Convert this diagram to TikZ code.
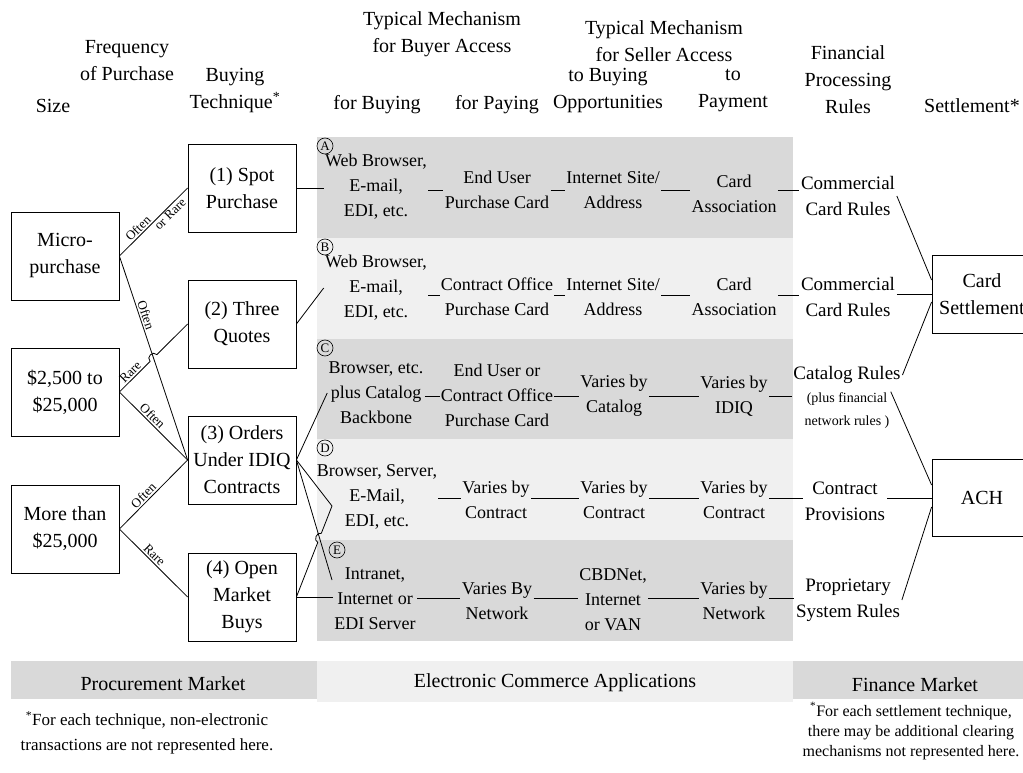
\documentclass[tikz,border=0pt]{standalone}
\usepackage{fontspec}
\setmainfont{Liberation Serif}
\usetikzlibrary{calc}
\definecolor{banddark}{HTML}{D9D9D9}
\definecolor{bandlight}{HTML}{F0F0F0}
\begin{document}
\begin{tikzpicture}[x=1pt, y=-1pt, line width=0.8pt,
  every node/.style={align=center},
  head/.style={font=\fontsize{20}{27}\selectfont},
  box/.style={draw, minimum width=108pt, minimum height=88pt, font=\fontsize{20}{27}\selectfont},
  cell/.style={inner sep=1pt, font=\fontsize{18}{25}\selectfont},
  rules/.style={inner sep=1.5pt, font=\fontsize{19}{26}\selectfont},
  small/.style={inner sep=1pt, font=\fontsize{14}{23}\selectfont},
  tag/.style={draw, circle, inner sep=0pt, minimum size=16pt, line width=0.6pt, font=\fontsize{13}{13}\selectfont},
  freq/.style={sloped, above, inner sep=1.5pt, font=\fontsize{13}{13}\selectfont},
  market/.style={font=\fontsize{20}{24}\selectfont},
  note/.style={font=\fontsize{17}{25}\selectfont}]
\useasboundingbox (0,0) rectangle (1023,773);
\fill[banddark] (317,137) rectangle (793,238);
\fill[bandlight] (317,238) rectangle (793,339);
\fill[banddark] (317,339) rectangle (793,439);
\fill[bandlight] (317,439) rectangle (793,540);
\fill[banddark] (317,540) rectangle (793,641);
\fill[banddark] (11,661) rectangle (317,699);
\fill[bandlight] (317,661) rectangle (793,702);
\fill[banddark] (793,661) rectangle (1023,699);

\node[head] (hsize) at (53,106) {Size};
\node[head] (hfreq) at (127,61) {Frequency\\of Purchase};
\node[head] (htech) at (235,91) {Buying\\Technique\textsuperscript{*}};
\node[head] (hbuyer) at (442,34) {Typical Mechanism\\for Buyer Access};
\node[head] (hseller) at (664,41) {Typical Mechanism\\for Seller Access};
\node[head] (hbuy) at (377,105) {for Buying};
\node[head] (hpay) at (497,105) {for Paying};
\node[head] (hopp) at (608,91) {to Buying\\Opportunities};
\node[head] (hpmt) at (733,91) {to\\Payment};
\node[head] (hrules) at (848,80) {Financial\\Processing\\Rules};
\node[head] (hsettle) at (972,106) {Settlement*};

\node[box] (s1) at (65,256) {Micro-\\purchase};
\node[box] (s2) at (65,392) {\$2,500 to\\\$25,000};
\node[box] (s3) at (65,529) {More than\\\$25,000};
\node[box] (t1) at (242,188) {(1) Spot\\Purchase};
\node[box] (t2) at (242,324) {(2) Three\\Quotes};
\node[box] (t3) at (242,460) {(3) Orders\\Under IDIQ\\Contracts};
\node[box] (t4) at (242,597) {(4) Open\\Market\\Buys};

\node[tag] (la) at (325,146) {A};
\node[cell] (a1) at (376,187) {Web Browser,\\E-mail,\\EDI, etc.};
\node[cell] (a2) at (497,190) {End User\\Purchase Card};
\node[cell] (a3) at (613,190) {Internet Site/\\Address};
\node[cell] (a4) at (734,194) {Card\\Association};
\node[rules] (a5) at (848,196) {Commercial\\Card Rules};

\node[tag] (lb) at (325,247) {B};
\node[cell] (b1) at (376,288) {Web Browser,\\E-mail,\\EDI, etc.};
\node[cell] (b2) at (497,297) {Contract Office\\Purchase Card};
\node[cell] (b3) at (613,297) {Internet Site/\\Address};
\node[cell] (b4) at (734,297) {Card\\Association};
\node[rules] (b5) at (848,297) {Commercial\\Card Rules};

\node[tag] (lc) at (325,348) {C};
\node[cell] (c1) at (376,393) {Browser, etc.\\plus Catalog\\Backbone};
\node[cell] (c2) at (497,395) {End User or\\Contract Office\\Purchase Card};
\node[cell] (c3) at (614,396) {Varies by\\Catalog};
\node[cell] (c4) at (734,396) {Varies by\\IDIQ};
\node[rules] (c5) at (847,375) {Catalog Rules};
\node[small] (c6) at (847,411) {(plus financial\\network rules )};

\node[tag] (ld) at (325,448) {D};
\node[cell] (d1) at (377,497) {Browser, Server,\\E-Mail,\\EDI, etc.};
\node[cell] (d2) at (496,500) {Varies by\\Contract};
\node[cell] (d3) at (614,500) {Varies by\\Contract};
\node[cell] (d4) at (734,500) {Varies by\\Contract};
\node[rules] (d5) at (845,501) {Contract\\Provisions};

\node[tag] (le) at (337,550) {E};
\node[cell] (e1) at (375,599) {Intranet,\\Internet or\\EDI Server};
\node[cell] (e2) at (497,601) {Varies By\\Network};
\node[cell] (e3) at (613,600) {CBDNet,\\Internet\\or VAN};
\node[cell] (e4) at (734,601) {Varies by\\Network};
\node[rules] (e5) at (848,600) {Proprietary\\System Rules};

\node[box, minimum width=100pt, minimum height=78pt] (cs) at (982,294) {Card\\Settlement};
\node[box, minimum width=100pt, minimum height=77pt] (ach) at (982,498) {ACH};

\node[market] (mproc) at (163,684) {Procurement Market};
\node[market] (mecom) at (555,683) {Electronic Commerce Applications};
\node[market] (mfin) at (915,685) {Finance Market};
\node[note] (nproc) at (147,733) {\textsuperscript{*}For each technique, non-electronic\\transactions are not represented here.};
\node[note, font=\fontsize{16}{20}\selectfont] (nfin) at (911,731) {\textsuperscript{*}For each settlement technique,\\there may be additional clearing\\mechanisms not represented here.};

\coordinate (a0) at (0,190);
\coordinate (b0) at (0,295);
\coordinate (c0) at (0,396);
\coordinate (d0) at (0,498);
\coordinate (e0) at (0,598);
\coordinate (dIn) at (332,506);
\coordinate (eIn) at (332,580);

\draw (s1.east) -- node[freq, pos=0.34] {Often} node[freq, below, pos=0.68] {or Rare} (t1.west);
\draw (s1.east) -- node[freq, pos=0.3] {Often} (t3.west);
\draw (s2.east) -- node[freq, pos=0.5] {Rare} ($(s2.east)!0.45!(t2.west)$)
  .. controls ($(s2.east)!0.45!(t2.west)!6pt!90:(t2.west)$) and ($(s2.east)!0.55!(t2.west)!6pt!-90:(s2.east)$) .. ($(s2.east)!0.55!(t2.west)$) -- (t2.west);
\draw (s2.east) -- node[freq, pos=0.42] {Often} (t3.west);
\draw (s3.east) -- node[freq, pos=0.42] {Often} (t3.west);
\draw (s3.east) -- node[freq, pos=0.45] {Rare} (t4.west);

\draw (t1.east) -- (t1.east -| a1.west);
\draw (t2.east) -- (b1.west);
\draw (t3.east) -- (c1.west);
\draw (t3.east) -- (dIn);
\draw (t3.east) -- (eIn);
\draw (t4.east) -- (t4.east -| e1.west);
\draw (t4.east) -- ($(t4.east)!0.6!(dIn)$)
  .. controls ($(t4.east)!0.6!(dIn)!5pt!90:(dIn)$) and ($(t4.east)!0.7!(dIn)!5pt!-90:(t4.east)$) .. ($(t4.east)!0.7!(dIn)$) -- (dIn);

\foreach \r in {a,b,c,d,e}
  \foreach \c/\n in {1/2,2/3,3/4,4/5}
    \draw (\r\c.east |- \r0) -- (\r\n.west |- \r0);

\draw (a5.east) -- ($(cs.west)+(0,-14)$);
\draw (b5.east |- cs.west) -- (cs.west);
\draw (c5.east) -- ($(cs.west)+(0,8)$);
\draw (c6.north east) -- ($(ach.west)+(0,-13)$);
\draw (d5.east |- ach.west) -- (ach.west);
\draw (e5.east) -- ($(ach.west)+(0,9)$);
\end{tikzpicture}
\end{document}
